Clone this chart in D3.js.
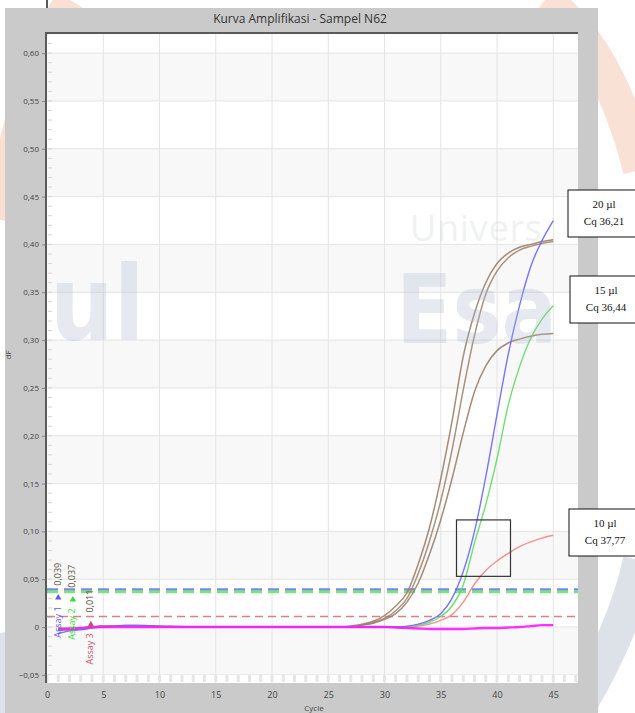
<!DOCTYPE html>
<html>
<head>
<meta charset="utf-8">
<script src="https://cdn.jsdelivr.net/npm/d3@7"></script>
<style>
  body { margin: 0; background: #fff; }
  svg { display: block; }
</style>
</head>
<body>
<div class="chart1"></div>
<script>
// cycle numbers (x)
const cycles = [1,2,3,4,5,6,7,8,9,10,11,12,13,14,15,16,17,18,19,20,21,22,23,24,25,26,27,28,29,30,31,32,33,34,35,36,37,38,39,40,41,42,43,44,45];

// dF per cycle
const brown1 = [-0.001,-0.002,-0.001,0,0.001,0.001,0.001,0.001,0.001,0.0005,0,0,0,0,0,0,0,0,0,0,0,0,0,0,0,0,0.001,0.003,0.006,0.012,0.022,0.036,0.066,0.104,0.155,0.215,0.283,0.328,0.360,0.380,0.391,0.397,0.400,0.403,0.405];
const brown2 = [-0.002,-0.002,-0.001,0,0.001,0.001,0.001,0.001,0.0005,0,0,0,0,0,0,0,0,0,0,0,0,0,0,0,0,0,0,0.002,0.005,0.009,0.017,0.030,0.056,0.090,0.132,0.185,0.248,0.305,0.348,0.372,0.386,0.394,0.398,0.401,0.403];
const brown3 = [-0.001,-0.001,-0.001,0,0.001,0.001,0.001,0.001,0.0005,0,0,0,0,0,0,0,0,0,0,0,0,0,0,0,0,0,0,0.002,0.004,0.008,0.014,0.026,0.046,0.076,0.112,0.155,0.203,0.246,0.273,0.289,0.297,0.301,0.304,0.306,0.307];
const blueVals = [-0.007,-0.004,-0.003,-0.001,0,0.001,0.002,0.002,0.0015,0.001,0.001,0.0005,0,0,0,0,0,0,0,0,0,0,0,0,0,0,0,0,0,0,0,0.001,0.003,0.007,0.014,0.030,0.058,0.100,0.157,0.222,0.285,0.336,0.377,0.404,0.425];
const greenVals = [-0.004,-0.003,-0.002,-0.001,0,0.001,0.001,0.0015,0.001,0.001,0.0005,0,0,0,0,0,0,0,0,0,0,0,0,0,0,0,0,0,0,0,0,0,0.002,0.005,0.011,0.022,0.044,0.088,0.128,0.176,0.232,0.272,0.302,0.322,0.336];
const redVals = [-0.002,-0.002,-0.001,0,0.001,0.001,0.001,0.001,0.001,0.0005,0,0,0,0,0,0,0,0,0,0,0,0,0,0,0,0,0,0,0,0,0,0,0.001,0.003,0.007,0.013,0.026,0.045,0.059,0.069,0.077,0.084,0.089,0.093,0.096];
const magentaVals = [-0.003,-0.002,-0.001,0,0,0,0,0,0,0,0,0,0,0,0,0,0,0,0,0,0,0,0,0,0,0,0,0,0,0,-0.0005,-0.001,-0.0015,-0.002,-0.002,-0.002,-0.002,-0.0015,-0.001,-0.001,-0.0005,0,0.001,0.002,0.002];

// thresholds
const thresholdValues = [0.039, 0.037, 0.011];
const thresholdLabels = ['0,039', '0,037', '0,011'];
const assayNames = ['Assay 1', 'Assay 2', 'Assay 3'];

// annotation boxes
const annotVolumes = ['20 µl', '15 µl', '10 µl'];
const annotCq = ['Cq 36,21', 'Cq 36,44', 'Cq 37,77'];

// axis ticks
const xTicks = [0, 5, 10, 15, 20, 25, 30, 35, 40, 45];
const yTicks = [-0.05, 0, 0.05, 0.10, 0.15, 0.20, 0.25, 0.30, 0.35, 0.40, 0.45, 0.50, 0.55, 0.60];

let config = {
  width: 635,
  height: 713,
  frame: { x: 5, y: 8, w: 593, h: 705 },
  plot: { left: 47, right: 578, top: 34, bottom: 683 },
  xDomain: [0, 47.2],
  yDomain: [-0.0585, 0.62],
  frameColor: '#cacaca',
  gridColor: '#e4e4e4',
  bandColor: '#f8f8f9',
  font: '"Open Sans", "Noto Sans", sans-serif',
  serif: '"Liberation Serif", "DejaVu Serif", serif',
  series: [
    { values: magentaVals, color: '#ff1aff', width: 2.4 },
    { values: brown1, color: '#9c8068', width: 1.5 },
    { values: brown2, color: '#a08670', width: 1.5 },
    { values: brown3, color: '#9a7e66', width: 1.5 },
    { values: redVals, color: '#f4857c', width: 1.4 },
    { values: greenVals, color: '#5fdc5f', width: 1.4 },
    { values: blueVals, color: '#6666ff', width: 1.4 }
  ],
  thresholdColors: ['#7b86f5', '#80e080', '#d98088'],
  thresholdWidths: [3, 3, 1.5],
  thresholdDash: ['11,6', '11,6', '8,5'],
  assayColors: ['#5a5aff', '#33dd33', '#c85066'],
  assayCycles: [1.0, 2.3, 3.9],
  annotBoxes: [
    { x: 568, y: 190, w: 75, h: 47 },
    { x: 570, y: 276, w: 75, h: 47 },
    { x: 569, y: 509, w: 75, h: 47 }
  ]
};

let svg = d3.select('div.chart1').append('svg')
  .attr('width', config.width)
  .attr('height', config.height);

let x = d3.scaleLinear()
  .domain(config.xDomain)
  .range([config.plot.left, config.plot.right]);

let y = d3.scaleLinear()
  .domain(config.yDomain)
  .range([config.plot.bottom, config.plot.top]);

let fmt = (v) => v === 0 ? '0' : d3.format('.2f')(v).replace('.', ',');

// page decoration behind the chart
let wmBack = svg.append('g').attr('class', 'wm_back');
wmBack.append('path')
  .attr('d', 'M 70 0 Q 20 80 0 220')
  .attr('fill', 'none').attr('stroke', '#f6c4ae').attr('stroke-width', 30).attr('opacity', 0.55);
wmBack.append('path')
  .attr('d', 'M 545 0 Q 610 50 640 170')
  .attr('fill', 'none').attr('stroke', '#f6c4ae').attr('stroke-width', 34).attr('opacity', 0.5);
wmBack.append('circle').attr('cx', 20).attr('cy', 690).attr('r', 60).attr('fill', '#c7ced9').attr('opacity', 0.6);
wmBack.append('path')
  .attr('d', 'M 575 713 Q 625 630 640 560')
  .attr('fill', 'none').attr('stroke', '#c7ced9').attr('stroke-width', 34).attr('opacity', 0.6);

// frame and title
svg.append('rect')
  .attr('x', config.frame.x).attr('y', config.frame.y)
  .attr('width', config.frame.w).attr('height', config.frame.h)
  .attr('fill', config.frameColor);

svg.append('text')
  .text('Kurva Amplifikasi - Sampel N62')
  .attr('x', 300).attr('y', 23)
  .attr('text-anchor', 'middle')
  .attr('font-family', config.font)
  .attr('font-size', '12px')
  .attr('fill', '#333');

svg.append('line')
  .attr('x1', 47).attr('x2', 47).attr('y1', 0).attr('y2', 8)
  .attr('stroke', '#222').attr('stroke-width', 1.5);

// plot background
let plot = svg.append('g').attr('class', 'plot');
plot.append('rect')
  .attr('x', config.plot.left).attr('y', config.plot.top)
  .attr('width', config.plot.right - config.plot.left)
  .attr('height', config.plot.bottom - config.plot.top)
  .attr('fill', '#fff');

let bands = [];
for (let i = 0; i < yTicks.length; i += 2) {
  let hi = i + 1 < yTicks.length ? yTicks[i + 1] : config.yDomain[1];
  bands.push([yTicks[i], hi]);
}
plot.selectAll('rect.band')
  .data(bands)
  .enter().append('rect')
  .attr('class', 'band')
  .attr('x', config.plot.left)
  .attr('width', config.plot.right - config.plot.left)
  .attr('y', (d) => y(d[1]))
  .attr('height', (d) => y(d[0]) - y(d[1]))
  .attr('fill', config.bandColor);

// grid
plot.selectAll('line.vgrid')
  .data(xTicks.slice(1))
  .enter().append('line')
  .attr('class', 'vgrid')
  .attr('x1', (d) => x(d)).attr('x2', (d) => x(d))
  .attr('y1', config.plot.top).attr('y2', config.plot.bottom)
  .attr('stroke', config.gridColor);

plot.selectAll('line.hgrid')
  .data(yTicks)
  .enter().append('line')
  .attr('class', 'hgrid')
  .attr('x1', config.plot.left).attr('x2', config.plot.right)
  .attr('y1', (d) => y(d)).attr('y2', (d) => y(d))
  .attr('stroke', config.gridColor);

// minor ticks inside the plot
let minorY = d3.range(-5, 62).map((d) => d / 100);
plot.selectAll('line.minory')
  .data(minorY)
  .enter().append('line')
  .attr('x1', config.plot.left + 1).attr('x2', config.plot.left + 5)
  .attr('y1', (d) => y(d)).attr('y2', (d) => y(d))
  .attr('stroke', '#d4d4d4');

plot.append('rect')
  .attr('x', config.plot.left).attr('y', config.plot.bottom - 8)
  .attr('width', config.plot.right - config.plot.left).attr('height', 7)
  .attr('fill', '#fff');
plot.selectAll('line.minorx')
  .data(d3.range(0, 48))
  .enter().append('line')
  .attr('x1', (d) => x(d)).attr('x2', (d) => x(d))
  .attr('y1', config.plot.bottom - 8).attr('y2', config.plot.bottom - 1)
  .attr('stroke', '#e6e6e6').attr('stroke-width', 3);

// axis border lines
plot.append('line')
  .attr('x1', config.plot.left - 1).attr('x2', config.plot.left - 1)
  .attr('y1', config.plot.top - 1).attr('y2', config.plot.bottom)
  .attr('stroke', '#5a5a5a').attr('stroke-width', 2);
plot.append('line')
  .attr('x1', config.plot.left - 2).attr('x2', config.plot.right)
  .attr('y1', config.plot.top - 1).attr('y2', config.plot.top - 1)
  .attr('stroke', '#5a5a5a').attr('stroke-width', 2);

// axes
let yAxis = svg.append('g')
  .attr('transform', 'translate(' + (config.plot.left - 2) + ',0)')
  .call(d3.axisLeft(y).tickValues(yTicks).tickFormat(fmt).tickSize(3).tickPadding(3));
yAxis.select('.domain').remove();
yAxis.selectAll('text')
  .attr('font-family', config.font).attr('font-size', '8px').attr('fill', '#444');
yAxis.selectAll('line').attr('stroke', '#888');

let xAxis = svg.append('g')
  .attr('transform', 'translate(0,' + config.plot.bottom + ')')
  .call(d3.axisBottom(x).tickValues(xTicks).tickFormat(d3.format('d')).tickSize(0).tickPadding(9));
xAxis.select('.domain').remove();
xAxis.selectAll('text')
  .attr('font-family', config.font).attr('font-size', '9px').attr('fill', '#444');

svg.append('text')
  .text('Cycle')
  .attr('x', 314).attr('y', 711)
  .attr('text-anchor', 'middle')
  .attr('font-family', config.font).attr('font-size', '8px').attr('fill', '#444');

svg.append('text')
  .text('dF')
  .attr('transform', 'translate(11,355) rotate(-90)')
  .attr('text-anchor', 'middle')
  .attr('font-family', config.font).attr('font-size', '8px').attr('fill', '#444');

// clip
svg.append('clipPath').attr('id', 'plotClip')
  .append('rect')
  .attr('x', config.plot.left).attr('y', config.plot.top)
  .attr('width', config.plot.right - config.plot.left)
  .attr('height', config.plot.bottom - config.plot.top);

let content = svg.append('g').attr('clip-path', 'url(#plotClip)');

// thresholds
content.selectAll('line.threshold')
  .data(thresholdValues)
  .enter().append('line')
  .attr('class', 'threshold')
  .attr('x1', config.plot.left).attr('x2', config.plot.right)
  .attr('y1', (d) => y(d)).attr('y2', (d) => y(d))
  .attr('stroke', (d, i) => config.thresholdColors[i])
  .attr('stroke-width', (d, i) => config.thresholdWidths[i])
  .attr('stroke-dasharray', (d, i) => config.thresholdDash[i]);

// curves
let line = d3.line()
  .x((d) => x(d.c))
  .y((d) => y(d.v))
  .curve(d3.curveMonotoneX);

let drawOrder = [1, 2, 3, 4, 5, 6, 0];
content.selectAll('path.curve')
  .data(drawOrder.map((k) => config.series[k]))
  .enter().append('path')
  .attr('class', 'curve')
  .attr('d', (s) => line(cycles.map((c, i) => ({ c: c, v: s.values[i] }))))
  .attr('fill', 'none')
  .attr('stroke', (s) => s.color)
  .attr('stroke-width', (s) => s.width)
  .attr('stroke-opacity', 0.9);

// assay labels
thresholdValues.forEach((t, i) => {
  let cx = x(config.assayCycles[i]);
  let ty = y(t);
  content.append('text')
    .text(thresholdLabels[i])
    .attr('transform', 'translate(' + cx + ',' + (ty - 4) + ') rotate(-90)')
    .attr('dominant-baseline', 'middle')
    .attr('font-family', config.font).attr('font-size', '9px')
    .attr('fill', '#5b4f45');
  content.append('path')
    .attr('d', d3.symbol().type(d3.symbolTriangle).size(18)())
    .attr('transform', 'translate(' + cx + ',' + (ty + 8) + ')')
    .attr('fill', config.assayColors[i]);
  content.append('text')
    .text(assayNames[i])
    .attr('transform', 'translate(' + cx + ',' + (ty + 48) + ') rotate(-90)')
    .attr('dominant-baseline', 'middle')
    .attr('font-family', config.font).attr('font-size', '9px')
    .attr('fill', config.assayColors[i]);
});

// highlight square
content.append('rect')
  .attr('x', x(36.4)).attr('y', y(0.112))
  .attr('width', x(41.2) - x(36.4))
  .attr('height', y(0.053) - y(0.112))
  .attr('fill', 'none')
  .attr('stroke', '#333').attr('stroke-width', 1.2);

// page watermark over the chart
let wm = svg.append('g').attr('class', 'wm').attr('pointer-events', 'none');
wm.append('text')
  .text('Univers')
  .attr('x', 410).attr('y', 241)
  .attr('textLength', 132).attr('lengthAdjust', 'spacing')
  .attr('font-family', config.font).attr('font-size', '36px')
  .attr('fill', '#b8bcc4').attr('opacity', 0.2);
wm.append('text')
  .text('Esa')
  .attr('transform', 'translate(396,343) scale(0.86,1)')
  .attr('font-family', '"DejaVu Sans", sans-serif').attr('font-weight', 'bold').attr('font-size', '96px')
  .attr('fill', '#a9b7cc').attr('opacity', 0.28);
wm.append('text')
  .text('ul')
  .attr('transform', 'translate(50,340) scale(0.86,1)')
  .attr('font-family', '"DejaVu Sans", sans-serif').attr('font-weight', 'bold').attr('font-size', '104px')
  .attr('fill', '#a9b7cc').attr('opacity', 0.28);

// annotation boxes
let notes = svg.append('g').attr('class', 'notes');
config.annotBoxes.forEach((b, i) => {
  notes.append('rect')
    .attr('x', b.x).attr('y', b.y).attr('width', b.w).attr('height', b.h)
    .attr('fill', '#fff').attr('stroke', '#111').attr('stroke-width', 1);
  notes.append('text')
    .text(annotVolumes[i])
    .attr('x', b.x + 36).attr('y', b.y + 18)
    .attr('text-anchor', 'middle')
    .attr('font-family', config.serif).attr('font-size', '11px').attr('fill', '#111');
  notes.append('text')
    .text(annotCq[i])
    .attr('x', b.x + 36).attr('y', b.y + 35)
    .attr('text-anchor', 'middle')
    .attr('font-family', config.serif).attr('font-size', '11px').attr('fill', '#111');
});
</script>
</body>
</html>
